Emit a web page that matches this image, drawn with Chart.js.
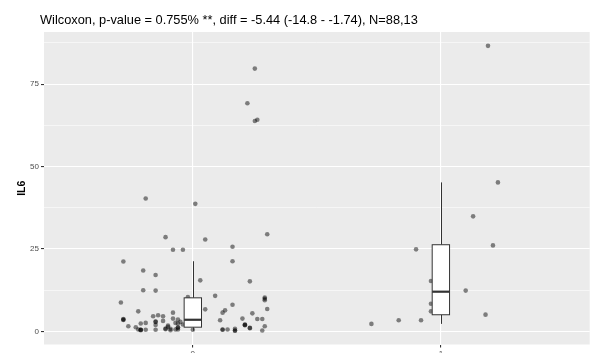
<!DOCTYPE html>
<html>
<head>
<meta charset="utf-8">
<script src="https://cdn.jsdelivr.net/npm/chart.js@4"></script>
<style>
  html, body { margin: 0; padding: 0; background: #ffffff; }
  #wrap { width: 592px; height: 353px; }
</style>
</head>
<body>
<div id="wrap"><canvas id="c" width="592" height="353"></canvas></div>
<script>
// Groups on the x axis and labelled y ticks
const groups = ['0', '1'];
const yMajorTicks = [0, 25, 50, 75];
const yMinorTicks = [12.5, 37.5, 62.5, 87.5];

// IL6 values per subject, with the horizontal jitter used to spread them
const il6Group0 = [
  79.7, 69.2, 63.8, 64.2, 40.3, 38.7, 28.6, 27.9, 24.8, 24.8,
  29.5, 25.7, 21.2, 21.3, 18.5, 17.1, 15.5, 15.2, 12.5, 12.4,
  10.8, 10.3, 9.9, 9.5, 10.4, 8.8, 8.1, 6.7, 6.8, 6.1,
  6.4, 5.7, 5.5, 3.4, 3.9, 3.8, 3.8, 1.6, 2.0, 1.9,
  1.0, 0.3, 0.5, 0.6, 0.8, 0.2, 0.5, 3.6, 3.8, 1.6,
  1.3, 0.5, 0.5, 0.6, 2.4, 2.6, 0.5, 0.5, 4.6, 4.9,
  2.9, 2.0, 4.6, 3.2, 1.8, 0.7, 1.4, 0.8, 0.4, 5.7,
  3.9, 2.6, 3.6, 2.4, 1.3, 0.6, 2.1, 0.6, 2.9, 0.4,
  0.9, 1.1, 0.6, 1.1, 3.0, 0.3, 2.1, 3.5
];
const jitterGroup0 = [
  0.25, 0.22, 0.25, 0.26, -0.19, 0.01, -0.11, 0.05, -0.08, -0.04,
  0.30, 0.16, -0.28, 0.16, -0.20, -0.15, 0.03, 0.23, -0.20, -0.15,
  0.09, 0.29, 0.29, 0.29, -0.02, -0.29, 0.16, 0.05, 0.30, -0.22,
  0.13, 0.12, 0.24, 0.11, 0.20, 0.26, 0.28, 0.29, 0.21, 0.21,
  0.23, 0.28, 0.12, 0.14, 0.17, 0.17, 0.00, -0.28, -0.28, -0.26,
  -0.23, -0.21, -0.21, -0.22, -0.21, -0.19, -0.19, -0.15, -0.16, -0.14,
  -0.15, -0.15, -0.12, -0.12, -0.10, -0.11, -0.10, -0.09, -0.09, -0.08,
  -0.08, -0.07, -0.06, -0.06, -0.06, -0.06, -0.04, -0.07, -0.05, -0.21,
  -0.11, -0.06, 0.12, 0.23, -0.15, 0.17, 0.21, -0.28
];
const il6Group1 = [86.6, 45.2, 34.9, 26.1, 24.9, 12.4, 5.1, 2.3, 3.4, 3.4, 15.3, 8.4, 6.1];
const jitterGroup1 = [0.19, 0.23, 0.13, 0.21, -0.10, 0.10, 0.18, -0.28, -0.17, -0.08, -0.04, -0.04, -0.04];

// Box-and-whisker summaries per group
const boxLow    = [0.2, 2.3];
const boxQ1     = [1.3, 5.07];
const boxMedian = [3.55, 12.06];
const boxQ3     = [10.2, 26.3];
const boxHigh   = [21.3, 45.2];

const titleText = 'Wilcoxon, p-value = 0.755% **, diff = -5.44 (-14.8 - -1.74), N=88,13';
const yAxisTitle = 'IL6';

const FONT = '"Liberation Sans", Arial, Helvetica, sans-serif';

const toPoints = (vals, jit, g) => vals.map((v, i) => ({ x: g + jit[i], y: v }));

// Grey panel behind the plotting area
const panelBackground = {
  id: 'panelBackground',
  beforeDraw(chart) {
    const { ctx, chartArea: a } = chart;
    ctx.save();
    ctx.fillStyle = '#EBEBEB';
    ctx.fillRect(a.left, a.top, a.right - a.left, a.bottom - a.top);
    ctx.restore();
  }
};

// Boxes and whiskers, placed with the chart's own scales
const boxPlots = {
  id: 'boxPlots',
  afterDatasetsDraw(chart) {
    const { ctx, scales: { x, y } } = chart;
    const halfWidth = 0.035;
    ctx.save();
    ctx.strokeStyle = '#333333';
    groups.forEach((g, i) => {
      const xc = Math.round(x.getPixelForValue(i)) + 0.5;
      const xl = x.getPixelForValue(i - halfWidth);
      const xr = x.getPixelForValue(i + halfWidth);
      const pLow = y.getPixelForValue(boxLow[i]);
      const pQ1 = y.getPixelForValue(boxQ1[i]);
      const pMed = y.getPixelForValue(boxMedian[i]);
      const pQ3 = y.getPixelForValue(boxQ3[i]);
      const pHigh = y.getPixelForValue(boxHigh[i]);
      ctx.lineWidth = 1;
      ctx.beginPath();
      ctx.moveTo(xc, pQ3); ctx.lineTo(xc, pHigh);
      ctx.moveTo(xc, pQ1); ctx.lineTo(xc, pLow);
      ctx.stroke();
      ctx.fillStyle = '#FFFFFF';
      ctx.fillRect(xl, pQ3, xr - xl, pQ1 - pQ3);
      ctx.strokeRect(xl, pQ3, xr - xl, pQ1 - pQ3);
      ctx.lineWidth = 2.2;
      ctx.beginPath();
      ctx.moveTo(xl, pMed); ctx.lineTo(xr, pMed);
      ctx.stroke();
    });
    ctx.restore();
  }
};

// Plot title, left-aligned above the panel
const plotTitle = {
  id: 'plotTitle',
  afterDraw(chart) {
    const { ctx } = chart;
    ctx.save();
    ctx.fillStyle = '#000000';
    ctx.font = '12.8px ' + FONT;
    ctx.textAlign = 'left';
    ctx.textBaseline = 'alphabetic';
    ctx.fillText(titleText, 40, 24);
    ctx.restore();
  }
};

const isMajor = v => yMajorTicks.includes(v);

new Chart(document.getElementById('c'), {
  type: 'scatter',
  data: {
    datasets: [
      { label: groups[0], data: toPoints(il6Group0, jitterGroup0, 0) },
      { label: groups[1], data: toPoints(il6Group1, jitterGroup1, 1) }
    ]
  },
  options: {
    responsive: false,
    animation: false,
    devicePixelRatio: 1,
    layout: { padding: { top: 32, left: 0, right: 0, bottom: 0 } },
    elements: {
      point: {
        radius: 2.3,
        backgroundColor: 'rgba(0,0,0,0.47)',
        borderWidth: 0,
        hoverRadius: 2.3
      }
    },
    plugins: {
      legend: { display: false },
      tooltip: { enabled: false },
      title: { display: false }
    },
    scales: {
      x: {
        type: 'linear',
        min: -0.6,
        max: 1.6,
        afterBuildTicks(scale) { scale.ticks = groups.map((g, i) => ({ value: i })); },
        afterFit(scale) { scale.height = 8.5; },
        border: { display: false },
        grid: { color: '#FFFFFF', lineWidth: 1.1, tickColor: '#333333', tickLength: 3 },
        ticks: {
          padding: 1,
          autoSkip: false,
          maxRotation: 0,
          color: '#4D4D4D',
          font: { family: FONT, size: 8 },
          callback: v => groups[v] ?? ''
        }
      },
      y: {
        type: 'linear',
        min: -3.95,
        max: 90.8,
        afterBuildTicks(scale) {
          scale.ticks = [...yMajorTicks, ...yMinorTicks].sort((a, b) => a - b).map(v => ({ value: v }));
        },
        afterFit(scale) { scale.width = 44; },
        border: { display: false },
        grid: {
          color: '#FFFFFF',
          lineWidth: ctx => (ctx.tick && isMajor(ctx.tick.value)) ? 1.1 : 0.55,
          tickColor: ctx => (ctx.tick && isMajor(ctx.tick.value)) ? '#333333' : 'rgba(0,0,0,0)',
          tickLength: 3
        },
        ticks: {
          padding: 2,
          color: '#4D4D4D',
          font: { family: FONT, size: 8 },
          callback: v => isMajor(v) ? String(v) : ''
        },
        title: {
          display: true,
          text: yAxisTitle,
          color: '#000000',
          font: { family: FONT, size: 10.5, weight: 'bold' },
          padding: { top: 16, bottom: 0 }
        }
      }
    }
  },
  plugins: [panelBackground, boxPlots, plotTitle]
});
</script>
</body>
</html>
